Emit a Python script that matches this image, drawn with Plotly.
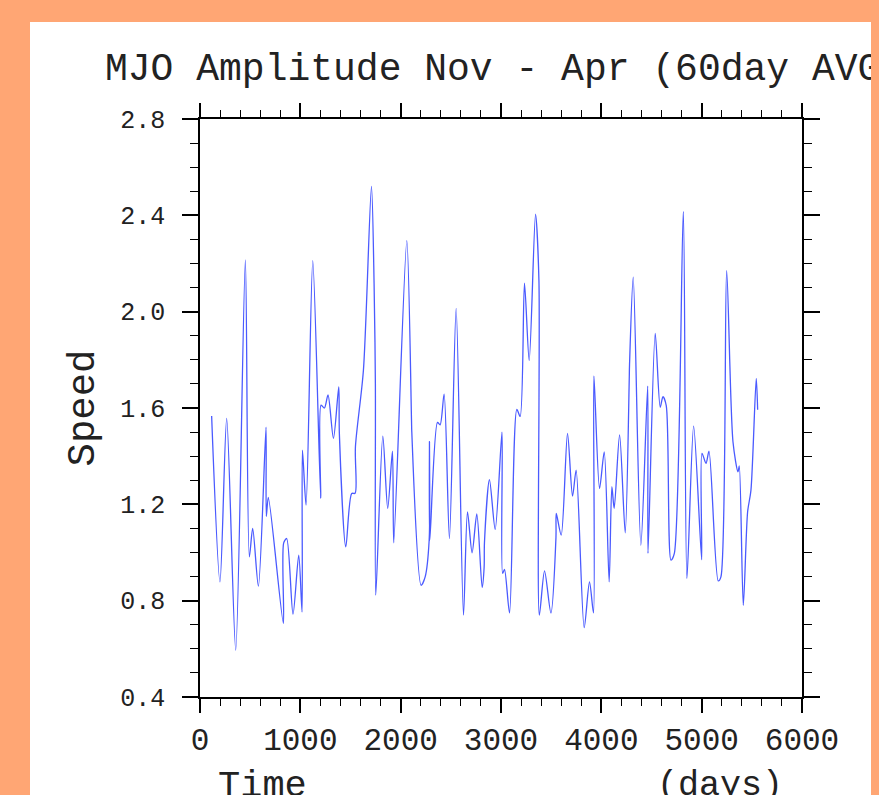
import plotly.graph_objects as go

days = [116, 199, 266, 356, 452, 492, 525, 582, 658, 661, 681, 831, 834, 864, 927, 984,
        1017, 1021, 1057, 1124, 1203, 1207, 1240, 1276, 1330, 1383, 1389, 1453, 1512,
        1546, 1549, 1629, 1709, 1735, 1748, 1752, 1822, 1871, 1918, 1931, 2061, 2108,
        2111, 2204, 2244, 2284, 2287, 2290, 2367, 2393, 2433, 2486, 2553, 2626, 2666,
        2712, 2759, 2812, 2832, 2835, 2885, 2942, 3010, 3016, 3035, 3085, 3158, 3191,
        3234, 3281, 3344, 3378, 3382, 3434, 3497, 3548, 3551, 3600, 3663, 3713, 3749,
        3829, 3882, 3922, 3926, 3982, 4029, 4078, 4105, 4128, 4182, 4238, 4278, 4281,
        4318, 4394, 4462, 4465, 4537, 4587, 4614, 4647, 4694, 4727, 4817, 4853, 4920,
        5000, 5003, 5043, 5073, 5165, 5192, 5249, 5312, 5362, 5375, 5415, 5458, 5491,
        5544, 5558]
speed = [1.567, 0.878, 1.557, 0.594, 2.215, 0.982, 1.100, 0.860, 1.52, 1.15, 1.229, 0.705,
         1.04, 1.058, 0.744, 0.989, 0.753, 1.425, 1.197, 2.212, 1.225, 1.612, 1.60, 1.654,
         1.474, 1.688, 1.495, 1.023, 1.245, 1.246, 1.438, 1.758, 2.52, 2.118, 1.70, 0.823,
         1.483, 1.183, 1.421, 1.040, 2.295, 1.55, 1.50, 0.864, 0.899, 1.051, 1.46, 1.05,
         1.54, 1.53, 1.658, 1.058, 2.014, 0.74, 1.169, 0.999, 1.16, 0.855, 0.94, 1.04,
         1.303, 1.096, 1.50, 0.913, 0.93, 0.749, 1.594, 1.565, 2.118, 1.797, 2.405, 2.13,
         0.74, 0.924, 0.749, 1.065, 1.162, 1.072, 1.495, 1.234, 1.342, 0.688, 0.878, 0.749,
         1.733, 1.266, 1.418, 0.878, 1.273, 1.183, 1.488, 1.082, 1.717, 1.779, 2.143, 1.03,
         1.691, 0.996, 1.91, 1.603, 1.647, 1.61, 0.968, 0.995, 2.416, 0.892, 1.525, 0.97,
         1.412, 1.37, 1.421, 0.882, 0.899, 2.17, 1.46, 1.335, 1.36, 0.781, 1.169, 1.258,
         1.723, 1.593]

title_text = "MJO Amplitude Nov - Apr (60day AVG)"
x_ticks = [0, 1000, 2000, 3000, 4000, 5000, 6000]
y_ticks = [0.4, 0.8, 1.2, 1.6, 2.0, 2.4, 2.8]

FONT = "Liberation Mono"
ORANGE = "#ffa674"
OFF = 8  # default page body margin
W, H = 879 - OFF, 795 - OFF
L, T = 200 - OFF, 119 - OFF
R = W - (802 - OFF)
B = H - (697 - OFF)
pw, ph = W - L - R, H - T - B

def px(xp):  # page pixel -> paper x
    return (xp - OFF - L) / pw

def py(yp):  # page pixel -> paper y
    return (H - B - (yp - OFF)) / ph

fig = go.Figure()
fig.add_trace(go.Scatter(x=days, y=speed, mode="lines",
                         line=dict(color="#4a5aff", width=1.3, shape="spline", smoothing=0.8),
                         showlegend=False, hoverinfo="skip"))

axis_common = dict(showline=True, linecolor="black", linewidth=1.5, mirror="ticks",
                   ticks="outside", tickcolor="black", tickwidth=1.5, showgrid=False,
                   zeroline=False)

fig.update_xaxes(range=[0, 6000], tickvals=x_ticks, ticklen=14,
                 tickfont=dict(family=FONT, size=31, color="#222"),
                 minor=dict(dtick=200, ticklen=7, tickcolor="black", tickwidth=1.2, ticks="outside"),
                 **axis_common)
fig.update_yaxes(range=[0.4, 2.8], tickvals=y_ticks, ticktext=[f"{v:.1f}" for v in y_ticks],
                 ticklen=16, ticklabelstandoff=12,
                 tickfont=dict(family=FONT, size=25, color="#222"),
                 minor=dict(dtick=0.1, ticklen=8, tickcolor="black", tickwidth=1.2, ticks="outside"),
                 title=dict(text="Speed", font=dict(family=FONT, size=39, color="#222"), standoff=14),
                 **axis_common)

fig.add_shape(type="rect", xref="paper", yref="paper", x0=px(30), x1=px(900), y0=py(820), y1=py(22),
              fillcolor="white", line=dict(width=0), layer="below")

fig.add_annotation(text=title_text, xref="paper", yref="paper", x=px(103), y=py(70),
                   xanchor="left", yanchor="middle", showarrow=False,
                   font=dict(family=FONT, size=38, color="#222"))
fig.add_annotation(text="Time", xref="paper", yref="paper", x=px(216), y=py(786),
                   xanchor="left", yanchor="middle", showarrow=False,
                   font=dict(family=FONT, size=37, color="#222"))
fig.add_annotation(text="(days)", xref="paper", yref="paper", x=px(785), y=py(786),
                   xanchor="right", yanchor="middle", showarrow=False,
                   font=dict(family=FONT, size=35, color="#222"))

fig.update_layout(width=W, height=H, margin=dict(l=L, r=R, t=T, b=B, autoexpand=False),
                  paper_bgcolor=ORANGE, plot_bgcolor="white", showlegend=False)

fig.write_html("out.html", post_script=f"document.body.style.background='{ORANGE}';")
